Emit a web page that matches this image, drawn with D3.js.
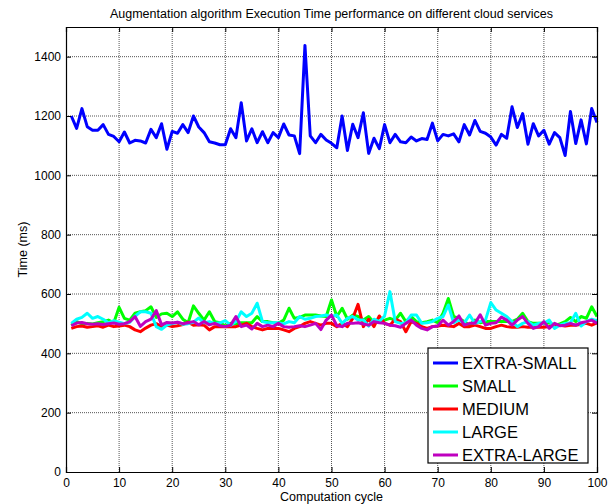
<!DOCTYPE html>
<html>
<head>
<meta charset="utf-8">
<script src="https://cdn.jsdelivr.net/npm/d3@7"></script>
<style>
  body { margin: 0; background: #fff; }
  svg { font-family: "Liberation Sans", Arial, sans-serif; }
</style>
</head>
<body>
<svg id="chart" width="615" height="504"></svg>
<script>
// Chart data (cycles 1..100).
var titleText = "Augmentation algorithm Execution Time performance on different cloud services";
var seriesNames = ["EXTRA-SMALL", "SMALL", "MEDIUM", "LARGE", "EXTRA-LARGE"];
var seriesColors = ["#0000ff", "#00ff00", "#ff0000", "#00ffff", "#bf00bf"];
var xTicks = [0, 10, 20, 30, 40, 50, 60, 70, 80, 90, 100];
var yTicks = [0, 200, 400, 600, 800, 1000, 1200, 1400];

var extraSmall = [
  1200, 1158, 1225, 1164, 1152, 1152, 1171, 1138, 1131, 1113,
  1146, 1109, 1118, 1116, 1109, 1155, 1127, 1174, 1088, 1148,
  1142, 1171, 1144, 1200, 1163, 1144, 1113, 1109, 1103, 1103,
  1157, 1127, 1245, 1116, 1157, 1110, 1147, 1110, 1144, 1127,
  1173, 1136, 1133, 1073, 1438, 1133, 1110, 1138, 1119, 1108,
  1093, 1200, 1084, 1172, 1127, 1211, 1074, 1125, 1090, 1171,
  1110, 1138, 1113, 1110, 1129, 1116, 1124, 1121, 1176, 1116,
  1138, 1133, 1140, 1113, 1171, 1136, 1185, 1148, 1142, 1129,
  1102, 1138, 1125, 1231, 1161, 1208, 1105, 1174, 1133, 1152,
  1105, 1144, 1127, 1067, 1215, 1107, 1187, 1106, 1225, 1178
];
var small = [
  495, 507, 499, 501, 499, 503, 507, 512, 503, 555,
  518, 512, 535, 540, 544, 557, 521, 533, 535, 524,
  540, 515, 503, 560, 535, 512, 540, 507, 503, 492,
  501, 499, 503, 503, 503, 524, 507, 507, 503, 501,
  512, 552, 518, 521, 529, 529, 529, 526, 524, 580,
  524, 552, 515, 529, 524, 512, 524, 503, 507, 512,
  518, 512, 535, 507, 524, 507, 503, 507, 512, 503,
  535, 585, 524, 518, 507, 495, 512, 503, 507, 507,
  507, 507, 507, 507, 515, 535, 507, 501, 501, 501,
  503, 495, 499, 507, 521, 507, 524, 518, 557, 524
];
var medium = [
  484, 490, 492, 488, 490, 493, 488, 495, 490, 492,
  495, 490, 479, 473, 485, 495, 500, 490, 495, 490,
  493, 497, 505, 495, 496, 495, 479, 490, 490, 490,
  490, 490, 495, 501, 490, 484, 479, 484, 484, 484,
  479, 473, 484, 490, 501, 507, 501, 495, 501, 501,
  490, 501, 490, 518, 565, 490, 515, 490, 526, 501,
  495, 515, 507, 473, 507, 501, 490, 484, 490, 492,
  495, 492, 490, 501, 490, 490, 495, 490, 484, 484,
  490, 495, 490, 488, 488, 490, 488, 488, 488, 488,
  490, 495, 495, 492, 495, 495, 498, 501, 495, 503
];
var large = [
  501, 515, 521, 535, 518, 524, 515, 503, 510, 505,
  500, 505, 525, 540, 540, 535, 490, 481, 495, 500,
  505, 498, 500, 505, 519, 503, 507, 501, 503, 510,
  495, 507, 540, 524, 535, 569, 507, 503, 503, 503,
  499, 507, 503, 524, 515, 518, 524, 526, 529, 524,
  529, 501, 518, 524, 512, 512, 492, 515, 507, 526,
  608, 507, 501, 503, 529, 529, 501, 503, 507, 518,
  524, 563, 503, 512, 503, 529, 501, 507, 512, 571,
  546, 535, 524, 507, 490, 501, 507, 495, 501, 501,
  512, 484, 495, 501, 503, 535, 492, 507, 515, 510
];
var extraLarge = [
  493, 502, 504, 500, 498, 500, 497, 500, 502, 498,
  500, 507, 524, 491, 507, 515, 544, 496, 504, 502,
  505, 500, 503, 507, 496, 507, 496, 501, 493, 490,
  495, 524, 490, 495, 482, 501, 490, 495, 490, 501,
  490, 488, 490, 493, 490, 495, 501, 480, 512, 529,
  493, 490, 501, 501, 503, 499, 495, 507, 503, 501,
  495, 493, 488, 501, 512, 495, 484, 479, 490, 492,
  512, 495, 507, 526, 495, 501, 501, 530, 495, 501,
  503, 522, 512, 495, 512, 524, 501, 484, 490, 507,
  484, 501, 493, 495, 501, 495, 503, 507, 512, 501
];

var allSeries = [extraSmall, small, medium, large, extraLarge];

var svg = d3.select("#chart");
var margin = {left: 66, right: 18, top: 27, bottom: 32};
var width = 615 - margin.left - margin.right;
var height = 504 - margin.top - margin.bottom;

var x = d3.scaleLinear().domain([0, 100]).range([0, width]);
var y = d3.scaleLinear().domain([0, 1500]).range([height, 0]);

var g = svg.append("g")
    .attr("transform", "translate(" + margin.left + "," + margin.top + ")");

// Dotted grid, MATLAB style.
g.append("g").selectAll("line.gx")
    .data(xTicks.slice(1, -1))
    .enter().append("line")
    .attr("x1", function(d) { return x(d); })
    .attr("x2", function(d) { return x(d); })
    .attr("y1", 0).attr("y2", height)
    .attr("stroke", "#555").attr("stroke-width", 1)
    .attr("stroke-dasharray", "1,1");
g.append("g").selectAll("line.gy")
    .data(yTicks.slice(1))
    .enter().append("line")
    .attr("y1", function(d) { return y(d); })
    .attr("y2", function(d) { return y(d); })
    .attr("x1", 0).attr("x2", width)
    .attr("stroke", "#555").attr("stroke-width", 1)
    .attr("stroke-dasharray", "1,1");

// Lines, drawn in legend order so the last one sits on top.
var line = d3.line()
    .x(function(d, i) { return x(i + 1); })
    .y(function(d) { return y(d); });

g.selectAll("path.series")
    .data(allSeries)
    .enter().append("path")
    .attr("class", "series")
    .attr("d", line)
    .attr("fill", "none")
    .attr("stroke", function(d, i) { return seriesColors[i]; })
    .attr("stroke-width", 3)
    .attr("stroke-linejoin", "round");

// Axes: ticks point inward, on all four sides.
var axisBottom = d3.axisBottom(x).tickValues(xTicks).tickSize(-5).tickPadding(6);
var axisLeft = d3.axisLeft(y).tickValues(yTicks).tickSize(-5).tickPadding(5)
    .tickFormat(d3.format("d"));

g.append("g")
    .attr("transform", "translate(0," + height + ")")
    .call(axisBottom);
g.append("g").call(axisLeft);
g.append("g")
    .call(d3.axisTop(x).tickValues(xTicks).tickSize(-5).tickFormat(""));
g.append("g")
    .attr("transform", "translate(" + width + ",0)")
    .call(d3.axisRight(y).tickValues(yTicks).tickSize(-5).tickFormat(""));

g.selectAll(".domain").attr("stroke", "#000").attr("stroke-width", 1.2);
g.selectAll(".tick line").attr("stroke", "#000");
g.selectAll(".tick text")
    .attr("font-family", "'Liberation Sans', Arial, sans-serif")
    .attr("font-size", 12)
    .attr("fill", "#000");

// Titles.
svg.append("text")
    .attr("x", margin.left + width / 2)
    .attr("y", 18)
    .attr("text-anchor", "middle")
    .attr("font-size", 12.5)
    .text(titleText);

svg.append("text")
    .attr("x", margin.left + width / 2)
    .attr("y", 501)
    .attr("text-anchor", "middle")
    .attr("font-size", 12.5)
    .text("Computation cycle");

svg.append("text")
    .attr("transform", "translate(27," + (margin.top + height / 2) + ") rotate(-90)")
    .attr("text-anchor", "middle")
    .attr("font-size", 12.5)
    .text("Time (ms)");

// Legend box in the lower right corner.
var legend = svg.append("g").attr("transform", "translate(428,348)");
legend.append("rect")
    .attr("width", 160).attr("height", 115)
    .attr("fill", "#fff").attr("stroke", "#000").attr("stroke-width", 1.2);

var rows = legend.selectAll("g.row")
    .data(seriesNames)
    .enter().append("g")
    .attr("transform", function(d, i) { return "translate(0," + (15 + i * 23) + ")"; });
rows.append("line")
    .attr("x1", 5).attr("x2", 30)
    .attr("stroke", function(d, i) { return seriesColors[i]; })
    .attr("stroke-width", 3);
rows.append("text")
    .attr("x", 34).attr("dy", "0.35em")
    .attr("font-size", 16.5)
    .text(function(d) { return d; });
</script>
</body>
</html>
